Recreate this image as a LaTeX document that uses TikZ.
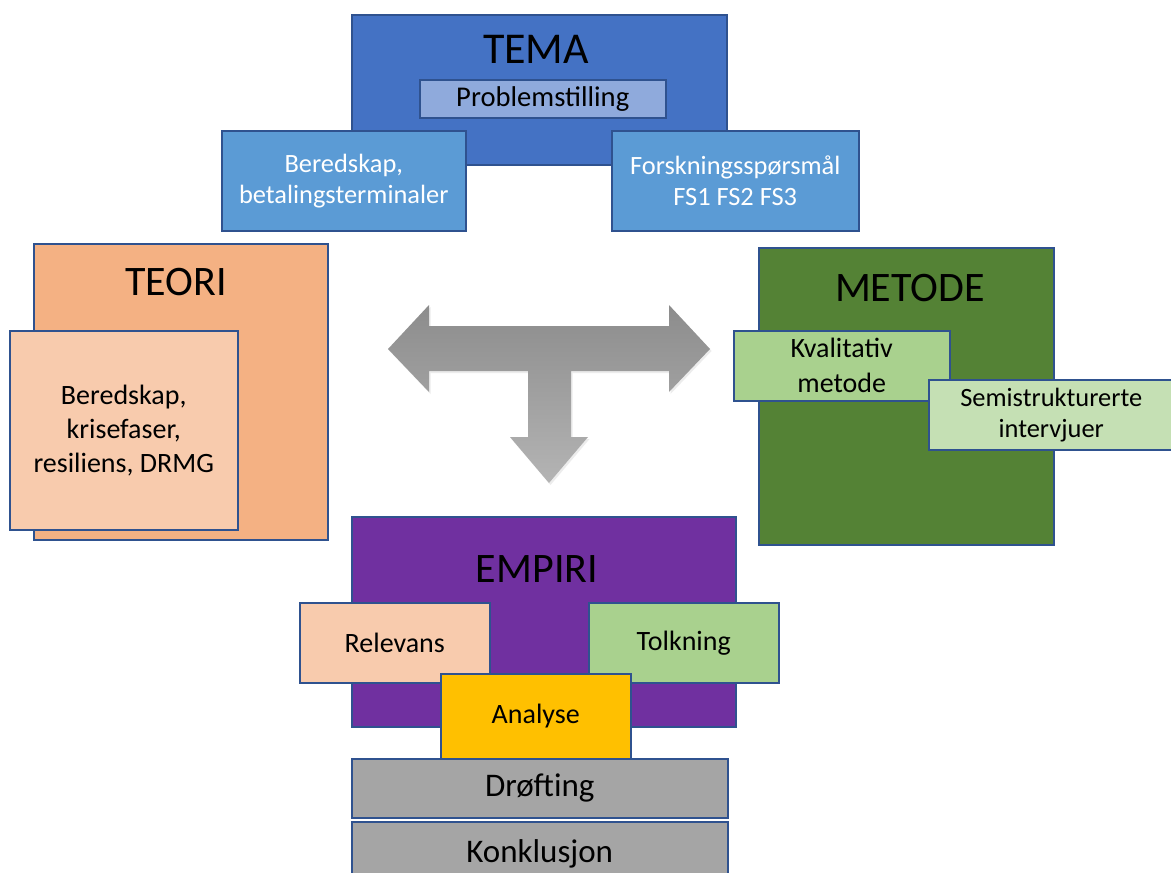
\documentclass[tikz,border=0pt]{standalone}
\usepackage{fontspec}
\setmainfont{Carlito}
\usetikzlibrary{shadows}
\definecolor{bord}{HTML}{2F528F}
\definecolor{temablue}{HTML}{4472C4}
\definecolor{problue}{HTML}{8FAADC}
\definecolor{subblue}{HTML}{5B9BD5}
\definecolor{teoriorange}{HTML}{F4B183}
\definecolor{lightorange}{HTML}{F8CBAD}
\definecolor{metodegreen}{HTML}{548235}
\definecolor{midgreen}{HTML}{A9D18E}
\definecolor{palegreen}{HTML}{C5E0B4}
\definecolor{empiripurple}{HTML}{7030A0}
\definecolor{analyseyellow}{HTML}{FFC000}
\definecolor{greybox}{HTML}{A5A5A5}
\definecolor{arrowtop}{RGB}{140,140,140}
\definecolor{arrowbot}{RGB}{180,180,180}
\tikzset{
  box/.style={draw=bord, line width=1.5pt, inner sep=0pt, align=center, text=black, anchor=north west},
  title/.style={font=\fontsize{42}{50}\selectfont, inner sep=0pt, anchor=base},
  med/.style={font=\fontsize{28}{34}\selectfont},
  small/.style={font=\fontsize{26.4}{31}\selectfont},
  big/.style={font=\fontsize{33}{38}\selectfont},
}
\begin{document}
\begin{tikzpicture}[x=1pt, y=-1pt]
\clip (0,0) rectangle (1171,873);
\fill[white] (0,0) rectangle (1171,873);

% TEMA
\node[box, fill=temablue, minimum width=375pt, minimum height=150pt] (tema) at (351,14) {};
\node[title, font=\fontsize{44}{50}\selectfont] (tematitle) at (536,63) {TEMA};
\node[box, fill=problue, font=\fontsize{28.6}{34}\selectfont, minimum width=246pt, minimum height=38pt] (problem) at (419,79) {Problemstilling};
\node[box, fill=subblue, small, text=white, minimum width=244pt, minimum height=100pt] (beredskapA) at (221,130) {Beredskap,\\betalingsterminaler};
\node[box, fill=subblue, small, text=white, minimum width=247pt, minimum height=100pt] (forskning) at (611,130) {Forskningsspørsmål\\FS1 FS2 FS3};

% TEORI
\node[box, fill=teoriorange, minimum width=294pt, minimum height=296pt] (teori) at (33,243) {};
\node[title] (teorititle) at (176,295) {TEORI};
\node[box, fill=lightorange, med, minimum width=228pt, minimum height=199pt] (teoriinner) at (9,330) {Beredskap,\\krisefaser,\\resiliens, DRMG};

% METODE
\node[box, fill=metodegreen, minimum width=295pt, minimum height=297pt] (metode) at (758,247) {};
\node[title] (metodetitle) at (910,301) {METODE};
\node[box, fill=midgreen, font=\fontsize{28}{35}\selectfont, minimum width=216pt, minimum height=70pt] (kval) at (733,330) {Kvalitativ\\metode};
\node[box, fill=palegreen, small, minimum width=245pt, minimum height=70pt] (semi) at (928,379) {Semistrukturerte\\intervjuer};

% EMPIRI
\node[box, fill=empiripurple, minimum width=384pt, minimum height=210pt] (empiri) at (351,516) {};
\node[title] (empirititle) at (537,582) {EMPIRI};
\node[box, fill=lightorange, med, minimum width=190pt, minimum height=80pt] (relevans) at (299,602) {Relevans};
\node[box, fill=midgreen, med, minimum width=190pt, minimum height=80pt] (tolkning) at (588,602) {Tolkning};
\node[box, fill=analyseyellow, med, minimum width=190pt, minimum height=85pt] (analyse) at (440,673) {Analyse};
\node[box, fill=greybox, big, minimum width=376pt, minimum height=59pt] (drofting) at (351,758) {Drøfting};
\node[box, fill=greybox, big, minimum width=376pt, minimum height=64pt] (konklusjon) at (351,821) {Konklusjon};

% central three-way arrow
\path[top color=arrowtop, bottom color=arrowbot, drop shadow={opacity=0.15, shadow xshift=1.5pt, shadow yshift=-2pt}]
  (388,349) -- (429,305) -- (429,326) -- (669,326) -- (669,305) -- (710,349)
  -- (669,392) -- (669,371) -- (571,371) -- (571,437) -- (588,437) -- (549,483)
  -- (510,437) -- (528,437) -- (528,371) -- (429,371) -- (429,392) -- cycle;
\end{tikzpicture}
\end{document}
